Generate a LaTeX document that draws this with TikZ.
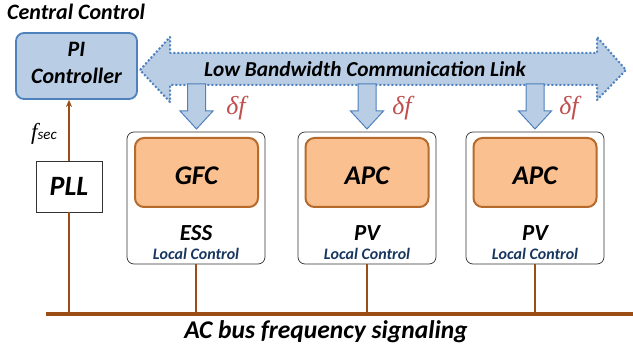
\documentclass[tikz,border=0pt]{standalone}
\usepackage{fontspec}
\usetikzlibrary{arrows.meta}
\setmainfont{Carlito}
\newfontfamily\serifit{Liberation Serif}
\definecolor{bluefill}{HTML}{B9CDE5}
\definecolor{blueline}{HTML}{4F81BD}
\definecolor{orfill}{HTML}{FAC08F}
\definecolor{orline}{HTML}{B66A2C}
\definecolor{brownline}{HTML}{9A4E16}
\definecolor{navy}{HTML}{17375E}
\definecolor{redtxt}{HTML}{C0504D}
\begin{document}
\begin{tikzpicture}[x=1pt,y=-1pt,
  pibox/.style={draw=blueline,line width=1.8pt,fill=bluefill,rounded corners=8pt,minimum width=121pt,minimum height=66pt,align=center,inner sep=0pt},
  lcbox/.style={draw=black!80,line width=0.7pt,fill=white,rounded corners=7pt,minimum width=138pt,minimum height=132pt,inner sep=0pt},
  ctrlbox/.style={draw=orline,line width=2pt,fill=orfill,rounded corners=9pt,minimum width=123pt,minimum height=69pt,inner sep=0pt},
  ctrltext/.style={font=\bfseries\itshape\fontsize{27}{27}\selectfont,inner sep=0pt},
  wire/.style={draw=brownline,line width=1.4pt},
  downarrow/.style={fill=bluefill,draw=blueline,line width=1pt,line join=miter},
  dflabel/.style={text=redtxt,font=\serifit\itshape\fontsize{26}{26}\selectfont,inner sep=0pt}
]
\useasboundingbox (0,0) rectangle (633,350);

% Central control title
\node[font=\bfseries\itshape\fontsize{22}{22}\selectfont,anchor=west,inner sep=0pt] (cc) at (7,12) {Central Control};

% PI controller
\node[pibox,font=\bfseries\itshape\fontsize{22}{26}\selectfont] (pi) at (76.5,66) {};
\node[font=\bfseries\itshape\fontsize{22}{22}\selectfont,inner sep=0pt] (pit) at (76.5,49) {PI};
\node[font=\bfseries\itshape\fontsize{22}{22}\selectfont,inner sep=0pt] (pic) at (76.5,76) {Controller};

% communication link arrow
\path[fill=bluefill,draw=blueline,line width=2pt,dotted,line join=round]
  (140,70) -- (170,37) -- (170,53) -- (597,53) -- (597,37) -- (626,70)
  -- (597,100) -- (597,85) -- (170,85) -- (170,102) -- cycle;
\node[font=\bfseries\itshape\fontsize{21.3}{21.3}\selectfont,inner sep=0pt] (link) at (365,69) {Low Bandwidth Communication Link};

% local control boxes
\node[lcbox] (ess) at (196,198) {};
\node[lcbox] (pv1) at (367,198) {};
\node[lcbox] (pv2) at (535,198) {};

\node[ctrlbox] (gfc) at (196.5,172.5) {};
\node[ctrlbox] (apc1) at (367,172.5) {};
\node[ctrlbox] (apc2) at (535,172.5) {};
\node[ctrltext] (gfct) at (196.5,176) {GFC};
\node[ctrltext] (apc1t) at (367,176) {APC};
\node[ctrltext] (apc2t) at (535,176) {APC};

\foreach \b/\t in {ess/ESS,pv1/PV,pv2/PV}{
  \node[font=\bfseries\itshape\fontsize{23}{23}\selectfont,inner sep=0pt] (\b-name) at ([yshift=-35pt]\b.center) {\t};
  \node[text=navy,font=\bfseries\itshape\fontsize{16}{16}\selectfont,inner sep=0pt] (\b-lc) at ([yshift=-56pt]\b.center) {Local Control};
}

% down arrows
\foreach \b in {gfc,apc1,apc2}{
  \path[downarrow] ([xshift=-9pt,yshift=53pt]\b.north) -- ([xshift=9pt,yshift=53pt]\b.north)
    -- ([xshift=9pt,yshift=26pt]\b.north) -- ([xshift=16.5pt,yshift=26pt]\b.north)
    -- ([yshift=8pt]\b.north) -- ([xshift=-16.5pt,yshift=26pt]\b.north)
    -- ([xshift=-9pt,yshift=26pt]\b.north) -- cycle;
}
\node[dflabel] (df1) at (236,108) {δf};
\node[dflabel] (df2) at (402,108) {δf};
\node[dflabel] (df3) at (569,108) {δf};

% PLL
\node[draw=black!80,line width=0.8pt,fill=white,minimum width=66pt,minimum height=51pt,inner sep=0pt,font=\bfseries\itshape\fontsize{28}{28}\selectfont] (pll) at (69,186.5) {PLL};
\node[inner sep=0pt,anchor=base west] (fsec) at (31,140) {{\serifit\itshape\fontsize{23}{23}\selectfont f}{\itshape\fontsize{15}{15}\selectfont sec}};

% bus
\coordinate (busL) at (46,314);
\coordinate (busR) at (633,314);
\draw[draw=brownline,line width=3.6pt] (busL) -- (busR);
\node[font=\bfseries\itshape\fontsize{25.5}{25.5}\selectfont,inner sep=0pt] (bus) at (326,332) {AC bus frequency signaling};

\draw[wire] (ess.south) -- (ess.south |- busL);
\draw[wire] (pv1.south) -- (pv1.south |- busL);
\draw[wire] (pv2.south) -- (pv2.south |- busL);
\draw[wire] (pll.south |- busL) -- (pll.south);
\draw[wire,-{Stealth[length=7pt,width=6pt]}] (pll.north) -- (pi.south -| pll.north);
\end{tikzpicture}
\end{document}
